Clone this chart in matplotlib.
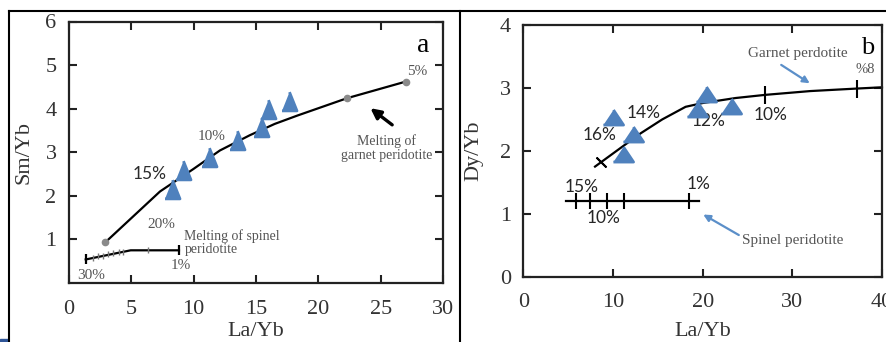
import matplotlib
matplotlib.use("Agg")
import matplotlib.pyplot as plt
from matplotlib.lines import Line2D
from matplotlib.patches import Rectangle

# (a) Sm/Yb vs La/Yb
a_sample_la = [8.27, 9.15, 11.2, 13.5, 15.4, 16.0, 17.65]
a_sample_sm = [2.15, 2.59, 2.89, 3.28, 3.59, 4.0, 4.17]
a_garnet_la = [2.9, 7.3, 10.0, 12.1, 14.5, 16.5, 18.3, 22.3, 27.0]
a_garnet_sm = [0.93, 2.1, 2.62, 3.04, 3.39, 3.65, 3.84, 4.24, 4.62]
a_garnet_dot_la = [2.9, 22.3, 27.0]
a_garnet_dot_sm = [0.93, 4.24, 4.62]
a_spinel_la = [1.34, 4.95, 8.82]
a_spinel_sm = [0.54, 0.75, 0.75]
a_spinel_tick_la = [1.95, 2.35, 2.75, 3.15, 3.56, 4.04, 4.36, 6.31]
a_spinel_tick_sm = [0.58, 0.61, 0.63, 0.66, 0.68, 0.71, 0.72, 0.75]

# (b) Dy/Yb vs La/Yb
b_sample_la = [10.0, 11.1, 12.2, 19.4, 20.4, 23.2]
b_sample_dy = [2.53, 1.95, 2.26, 2.67, 2.9, 2.72]
b_garnet_la = [8.0, 13.1, 15.5, 18.1, 20.0, 23.7, 27.0, 32.0, 37.2, 40.0]
b_garnet_dy = [1.75, 2.28, 2.5, 2.70, 2.76, 2.84, 2.89, 2.95, 2.99, 3.01]
b_garnet_tick_la = [27.0, 37.2]
b_garnet_tick_dy = [2.89, 2.99]
b_cross_la = [8.7]
b_cross_dy = [1.83]
b_spinel_la = [4.8, 19.6]
b_spinel_dy = [1.2, 1.2]
b_spinel_tick_la = [5.85, 7.48, 9.33, 11.19, 18.52]
b_spinel_tick_dy = [1.2, 1.2, 1.2, 1.2, 1.2]

W, H = 887, 342
SERIF = "Liberation Serif"
SANS = "Lato"
BLUE = "#4f81bd"
ARROW_BLUE = "#5b8fc9"
GREY_TXT = "#555555"

fig = plt.figure(figsize=(W / 100, H / 100), dpi=100)
fig.patch.set_facecolor("white")


def px_axes(x0, x1, y0, y1):
    # pixel box (left, right, top, bottom) -> figure fractions
    return fig.add_axes([x0 / W, 1 - y1 / H, (x1 - x0) / W, (y1 - y0) / H])


def style(ax):
    for s in ax.spines.values():
        s.set_linewidth(1.6)
        s.set_color("#222222")
    ax.tick_params(direction="in", length=6, width=1.5, top=True, right=True,
                   colors="#222222", labelcolor="#333333", labelsize=16)
    ax.tick_params(axis="x", pad=12)
    ax.tick_params(axis="y", pad=9)
    for lab in ax.get_xticklabels() + ax.get_yticklabels():
        lab.set_fontfamily(SERIF)


tri_a = [(-0.8, -1), (0.8, -1), (0, 1)]
tri_b = [(-1, -0.75), (1, -0.75), (0, 0.75)]

# ---------------- panel a ----------------
ax = px_axes(69, 443, 21.5, 283)
ax.set_xlim(0, 30)
ax.set_ylim(0, 6)
ax.set_xticks(range(0, 31, 5))
ax.set_yticks(range(1, 7))
style(ax)

ax.plot(a_garnet_la, a_garnet_sm, color="black", lw=1.6, zorder=2)
ax.plot(a_garnet_dot_la, a_garnet_dot_sm, "o", color="#8a8a8a", ms=4.5, zorder=3)
ax.plot(a_spinel_la, a_spinel_sm, color="black", lw=1.6, zorder=2)
ax.plot([a_spinel_la[0], a_spinel_la[-1]], [a_spinel_sm[0], a_spinel_sm[-1]], "|",
        color="black", ms=7, mew=1.6, zorder=3)
ax.plot(a_spinel_tick_la, a_spinel_tick_sm, "|", color="#777777", ms=5, mew=1.0, zorder=3)
ax.plot(a_sample_la, a_sample_sm, linestyle="none", marker=tri_a, ms=13.5,
        color=BLUE, mec=BLUE, mew=2, zorder=4)

ax.annotate("", xy=(24.0, 4.05), xytext=(26.1, 3.59),
            arrowprops=dict(arrowstyle="-|>", color="black", lw=2.4, mutation_scale=15))

ax.text(11.45, 3.36, "10%", family=SERIF, size=11, color=GREY_TXT, ha="center", va="center")
ax.text(6.45, 2.49, "15%", family=SANS, size=12.5, color="#2b2b2b", ha="center", va="center")
ax.text(7.4, 1.34, "20%", family=SERIF, size=11, color=GREY_TXT, ha="center", va="center")
ax.text(9.25, 0.93, "Melting of spinel\nperidotite", family=SERIF, size=10, color=GREY_TXT,
        ha="left", va="center", linespacing=1.0)
ax.text(8.95, 0.41, "1%", family=SERIF, size=11, color=GREY_TXT, ha="center", va="center")
ax.text(1.8, 0.18, "30%", family=SERIF, size=11, color=GREY_TXT, ha="center", va="center")
ax.text(27.9, 4.86, "5%", family=SERIF, size=11, color=GREY_TXT, ha="center", va="center")
ax.text(25.5, 3.09, "Melting of\ngarnet peridotite", family=SERIF, size=10, color=GREY_TXT,
        ha="center", va="center", linespacing=1.1)
ax.text(28.4, 5.45, "a", family=SERIF, size=20, color="black", ha="center", va="center")

ax.set_xlabel("La/Yb", family=SERIF, size=16, color="#333333")
ax.set_ylabel("Sm/Yb", family=SERIF, size=16, color="#333333")
ax.xaxis.set_label_coords(0.5, -0.148)
ax.yaxis.set_label_coords(-0.095, 0.5)

# ---------------- panel b ----------------
bx = px_axes(523.3, 882, 25, 276.7)
bx.set_xlim(0, 40)
bx.set_ylim(0, 4)
bx.set_xticks(range(0, 41, 10))
bx.set_yticks(range(0, 5))
style(bx)

bx.plot(b_garnet_la, b_garnet_dy, color="black", lw=1.6, zorder=2, clip_on=False)
bx.plot(b_garnet_tick_la, b_garnet_tick_dy, "|", color="black", ms=13, mew=1.5, zorder=3)
bx.plot(b_cross_la, b_cross_dy, linestyle="none", marker=(2, 2, 45), color="black",
        ms=10, mew=1.4, zorder=3)
bx.plot(b_spinel_la, b_spinel_dy, color="black", lw=1.6, zorder=2)
bx.plot(b_spinel_tick_la, b_spinel_tick_dy, "|", color="black", ms=12, mew=1.5, zorder=3)
bx.plot(b_sample_la, b_sample_dy, linestyle="none", marker=tri_b, ms=14.5,
        color=BLUE, mec=BLUE, mew=2, zorder=4)

bx.annotate("", xy=(32.2, 3.05), xytext=(28.5, 3.39),
            arrowprops=dict(arrowstyle="-|>", color=ARROW_BLUE, lw=1.6, mutation_scale=10))
bx.annotate("", xy=(19.8, 1.01), xytext=(24.3, 0.64),
            arrowprops=dict(arrowstyle="-|>", color=ARROW_BLUE, lw=1.6, mutation_scale=10))

for x, y, s in [(6.5, 1.42, "15%"), (8.96, 0.93, "10%"), (19.56, 1.47, "1%"),
                (8.5, 2.25, "16%"), (13.4, 2.6, "14%"), (20.7, 2.48, "12%"),
                (27.6, 2.57, "10%")]:
    bx.text(x, y, s, family=SANS, size=12.5, color="#262626", ha="center", va="center")
bx.text(38.1, 3.29, "%8", family=SERIF, size=10.5, color=GREY_TXT, ha="center", va="center")
bx.text(30.6, 3.55, "Garnet perdotite", family=SERIF, size=11, color=GREY_TXT,
        ha="center", va="center")
bx.text(30.0, 0.57, "Spinel peridotite", family=SERIF, size=11, color=GREY_TXT,
        ha="center", va="center")
bx.text(38.4, 3.63, "b", family=SERIF, size=19, color="black", ha="center", va="center")

bx.set_xlabel("La/Yb", family=SERIF, size=16, color="#333333")
bx.set_ylabel("Dy/Yb", family=SERIF, size=16, color="#333333")
bx.xaxis.set_label_coords(0.5, -0.18)
bx.yaxis.set_label_coords(-0.11, 0.5)

# panel frames
lw_frame = 1.5
fig.add_artist(Line2D([9 / W, 1], [1 - 11 / H, 1 - 11 / H], color="black", lw=lw_frame))
fig.add_artist(Line2D([9.5 / W, 9.5 / W], [0, 1 - 11 / H], color="black", lw=lw_frame))
fig.add_artist(Line2D([459.5 / W, 459.5 / W], [0, 1 - 11 / H], color="black", lw=lw_frame))
fig.add_artist(Rectangle((0, 0), 8 / W, 3 / H, color="#2f5597", transform=fig.transFigure))

fig.savefig("out.png", dpi=100)
